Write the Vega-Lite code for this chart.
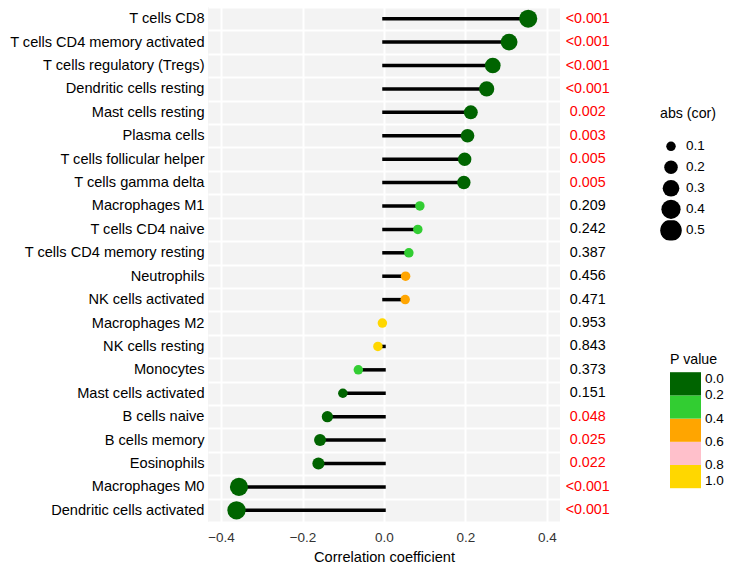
{
  "$schema": "https://vega.github.io/schema/vega-lite/v6.json",
  "autosize": {"type": "none"},
  "padding": {"left": 208, "top": 7, "right": 183, "bottom": 47},
  "width": 352,
  "height": 515,
  "background": "white",
  "config": {
    "font": "Liberation Sans",
    "view": {"fill": "#F3F3F3", "stroke": null},
    "axis": {
      "domain": false,
      "ticks": false,
      "gridColor": "white",
      "gridWidth": 2,
      "gridOpacity": 1,
      "labelFont": "Liberation Sans",
      "titleFont": "Liberation Sans",
      "titleFontWeight": "normal"
    },
    "legend": {
      "titleFont": "Liberation Sans",
      "titleFontWeight": "normal",
      "titleFontSize": 14.2,
      "titleColor": "black",
      "labelFont": "Liberation Sans",
      "labelFontSize": 13.5,
      "labelColor": "black"
    }
  },
  "data": {
    "values": [
      {"name": "T cells CD8", "cor": 0.354, "abscor": 0.354, "p": 0.0005, "plabel": "<0.001"},
      {"name": "T cells CD4 memory activated", "cor": 0.307, "abscor": 0.307, "p": 0.0005, "plabel": "<0.001"},
      {"name": "T cells regulatory (Tregs)", "cor": 0.267, "abscor": 0.267, "p": 0.0005, "plabel": "<0.001"},
      {"name": "Dendritic cells resting", "cor": 0.252, "abscor": 0.252, "p": 0.0005, "plabel": "<0.001"},
      {"name": "Mast cells resting", "cor": 0.213, "abscor": 0.213, "p": 0.002, "plabel": "0.002"},
      {"name": "Plasma cells", "cor": 0.205, "abscor": 0.205, "p": 0.003, "plabel": "0.003"},
      {"name": "T cells follicular helper", "cor": 0.198, "abscor": 0.198, "p": 0.005, "plabel": "0.005"},
      {"name": "T cells gamma delta", "cor": 0.196, "abscor": 0.196, "p": 0.005, "plabel": "0.005"},
      {"name": "Macrophages M1", "cor": 0.088, "abscor": 0.088, "p": 0.209, "plabel": "0.209"},
      {"name": "T cells CD4 naive", "cor": 0.083, "abscor": 0.083, "p": 0.242, "plabel": "0.242"},
      {"name": "T cells CD4 memory resting", "cor": 0.061, "abscor": 0.061, "p": 0.387, "plabel": "0.387"},
      {"name": "Neutrophils", "cor": 0.053, "abscor": 0.053, "p": 0.456, "plabel": "0.456"},
      {"name": "NK cells activated", "cor": 0.052, "abscor": 0.052, "p": 0.471, "plabel": "0.471"},
      {"name": "Macrophages M2", "cor": -0.004, "abscor": 0.004, "p": 0.953, "plabel": "0.953"},
      {"name": "NK cells resting", "cor": -0.015, "abscor": 0.015, "p": 0.843, "plabel": "0.843"},
      {"name": "Monocytes", "cor": -0.063, "abscor": 0.063, "p": 0.373, "plabel": "0.373"},
      {"name": "Mast cells activated", "cor": -0.101, "abscor": 0.101, "p": 0.151, "plabel": "0.151"},
      {"name": "B cells naive", "cor": -0.139, "abscor": 0.139, "p": 0.048, "plabel": "0.048"},
      {"name": "B cells memory", "cor": -0.157, "abscor": 0.157, "p": 0.025, "plabel": "0.025"},
      {"name": "Eosinophils", "cor": -0.161, "abscor": 0.161, "p": 0.022, "plabel": "0.022"},
      {"name": "Macrophages M0", "cor": -0.356, "abscor": 0.356, "p": 0.0005, "plabel": "<0.001"},
      {"name": "Dendritic cells activated", "cor": -0.362, "abscor": 0.362, "p": 0.0005, "plabel": "<0.001"}
    ]
  },
  "transform": [{"calculate": "-datum.p", "as": "negp"}],
  "encoding": {
    "y": {
      "field": "name",
      "type": "nominal",
      "sort": null,
      "scale": {"paddingInner": 0, "paddingOuter": 0},
      "axis": {
        "title": null,
        "grid": true,
        "tickBand": "extent",
        "labelPadding": 4,
        "labelFontSize": 14.6,
        "labelColor": "black",
        "labelLimit": 300
      }
    }
  },
  "layer": [
    {
      "mark": {"type": "rule", "color": "black", "strokeWidth": 3.5, "strokeCap": "square"},
      "encoding": {
        "x": {
          "field": "cor",
          "type": "quantitative",
          "scale": {"domain": [-0.432, 0.432], "nice": false, "zero": false},
          "axis": {
            "title": "Correlation coefficient",
            "values": [-0.4, -0.2, 0, 0.2, 0.4],
            "format": ".1f",
            "grid": true,
            "labelFontSize": 13.5,
            "labelColor": "#333333",
            "labelPadding": 8,
            "titleFontSize": 14.6,
            "titleColor": "black",
            "titlePadding": 6
          }
        },
        "x2": {"datum": 0}
      }
    },
    {
      "mark": {"type": "circle", "opacity": 1, "strokeWidth": 0},
      "encoding": {
        "x": {"field": "cor", "type": "quantitative"},
        "size": {
          "field": "abscor",
          "type": "quantitative",
          "scale": {"type": "linear", "domain": [0.1, 0.5], "range": [90, 464], "clamp": true, "zero": false},
          "legend": {
            "title": "abs (cor)",
            "values": [0.1, 0.2, 0.3, 0.4, 0.5],
            "orient": "none",
            "legendX": 452,
            "legendY": 100,
            "titlePadding": 15,
            "symbolFillColor": "black",
            "symbolStrokeColor": "black",
            "symbolStrokeWidth": 0,
            "symbolOpacity": 1,
            "symbolType": "circle",
            "clipHeight": 20.2,
            "rowPadding": 0,
            "labelOffset": 4
          }
        },
        "color": {
          "field": "negp",
          "type": "quantitative",
          "scale": {"type": "quantize", "domain": [-1, 0], "range": ["#FFD700", "#FFC0CB", "#FFA500", "#32CD32", "#006400"], "nice": false, "zero": false},
          "legend": {
            "title": "P value",
            "type": "gradient",
            "orient": "none",
            "legendX": 462,
            "legendY": 346,
            "gradientLength": 116,
            "gradientThickness": 31,
            "gradientStrokeWidth": 0,
            "values": [-1, -0.8, -0.6, -0.4, -0.2, 0],
            "labelExpr": "format(abs(datum.value), '.1f')",
            "labelOffset": 4,
            "encode": {"labels": {"update": {"dy": {"signal": "datum.perc <= 0 ? 6.5 : datum.perc >= 1 ? -6.5 : 0"}}}}
          }
        }
      }
    },
    {
      "mark": {"type": "text", "fontSize": 14.3, "align": "center", "baseline": "middle", "font": "Liberation Sans"},
      "encoding": {
        "x": {"datum": 0.5, "type": "quantitative"},
        "text": {"field": "plabel"},
        "color": {"condition": {"test": "datum.p < 0.05", "value": "#FF0000"}, "value": "#000000"}
      }
    }
  ]
}
